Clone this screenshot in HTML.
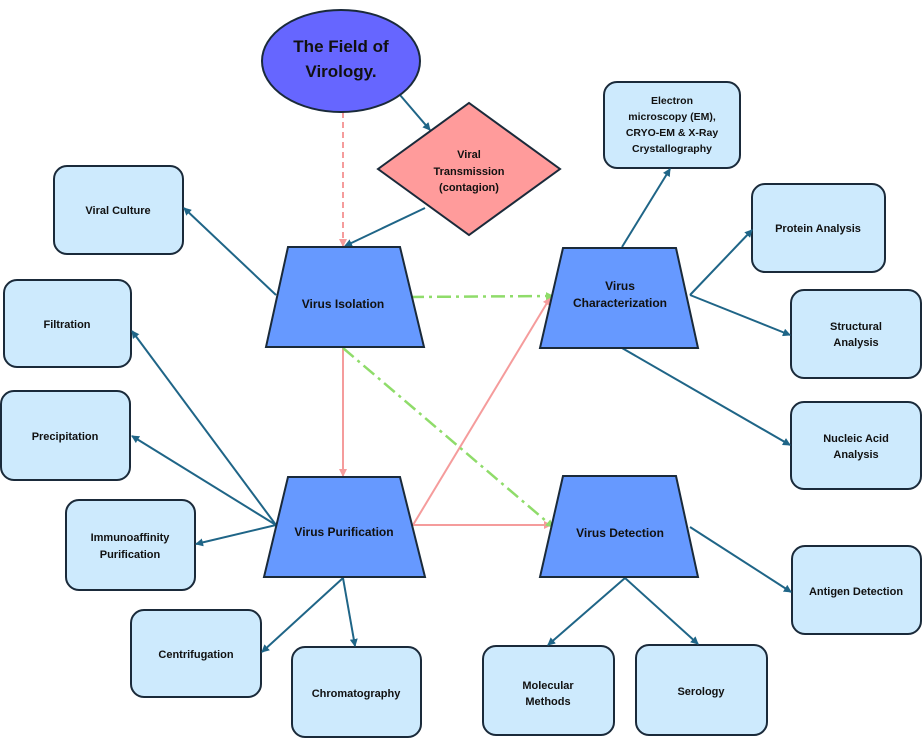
<!DOCTYPE html>
<html><head><meta charset="utf-8"><style>
html,body{margin:0;padding:0;background:#fff;}
svg{display:block;font-family:"Liberation Sans",sans-serif;font-weight:bold;}
</style></head><body>
<svg width="924" height="739" viewBox="0 0 924 739" xmlns="http://www.w3.org/2000/svg">
<defs>
<marker id="a" markerWidth="8" markerHeight="8" refX="7" refY="4" orient="auto" markerUnits="userSpaceOnUse"><path d="M0,0 L8,4 L0,8 Z" fill="#1f6587"/></marker>
<marker id="p" markerWidth="8" markerHeight="8" refX="7" refY="4" orient="auto" markerUnits="userSpaceOnUse"><path d="M0,0 L8,4 L0,8 Z" fill="#f59c9c"/></marker>
<marker id="g" markerWidth="8" markerHeight="8" refX="7" refY="4" orient="auto" markerUnits="userSpaceOnUse"><path d="M0,0 L8,4 L0,8 Z" fill="#8fdc6a"/></marker>
</defs>
<g fill="#cdeafd" stroke="#1a2a3a" stroke-width="2">
<rect x="54" y="166" width="129" height="88" rx="13"/>
<rect x="4" y="280" width="127" height="87" rx="13"/>
<rect x="1" y="391" width="129" height="89" rx="13"/>
<rect x="66" y="500" width="129" height="90" rx="13"/>
<rect x="131" y="610" width="130" height="87" rx="13"/>
<rect x="292" y="647" width="129" height="90" rx="13"/>
<rect x="483" y="646" width="131" height="89" rx="13"/>
<rect x="636" y="645" width="131" height="90" rx="13"/>
<rect x="792" y="546" width="129" height="88" rx="13"/>
<rect x="791" y="402" width="130" height="87" rx="13"/>
<rect x="791" y="290" width="130" height="88" rx="13"/>
<rect x="752" y="184" width="133" height="88" rx="13"/>
<rect x="604" y="82" width="136" height="86" rx="13"/>
</g>
<g stroke="#1f6587" stroke-width="2" fill="none" marker-end="url(#a)">
<line x1="400" y1="95" x2="430" y2="130"/>
<line x1="425" y1="208" x2="345" y2="246"/>
<line x1="276" y1="295" x2="184" y2="208"/>
<line x1="276" y1="525" x2="132" y2="331"/>
<line x1="276" y1="525" x2="132" y2="436"/>
<line x1="276" y1="525" x2="196" y2="544"/>
<line x1="343" y1="578" x2="262" y2="652"/>
<line x1="343" y1="578" x2="355" y2="646"/>
<line x1="622" y1="247" x2="670" y2="169"/>
<line x1="690" y1="295" x2="752" y2="230"/>
<line x1="690" y1="295" x2="790" y2="335"/>
<line x1="622" y1="348" x2="790" y2="445"/>
<line x1="625" y1="578" x2="548" y2="645"/>
<line x1="625" y1="578" x2="698" y2="644"/>
<line x1="690" y1="527" x2="791" y2="592"/>
</g>
<g stroke="#f59c9c" stroke-width="2" fill="none" marker-end="url(#p)">
<line x1="343" y1="112" x2="343" y2="246" stroke-dasharray="6,4"/>
<line x1="343" y1="348" x2="343" y2="476"/>
<line x1="413" y1="525" x2="550" y2="298"/>
<line x1="413" y1="525" x2="551" y2="525"/>
</g>
<g stroke="#8fdc6a" stroke-width="2.5" fill="none" stroke-dasharray="14,5,3,5" marker-end="url(#g)">
<line x1="410" y1="297" x2="553" y2="296"/>
<line x1="343" y1="348" x2="553" y2="527"/>
</g>
<ellipse cx="341" cy="61" rx="79" ry="51" fill="#6666ff" stroke="#1a2a3a" stroke-width="2"/>
<polygon points="378,169 469,103 560,169 469,235" fill="#ff9b9b" stroke="#1a2a3a" stroke-width="2"/>
<g fill="#6699ff" stroke="#1a2a3a" stroke-width="2">
<polygon points="288,247 400,247 424,347 266,347"/>
<polygon points="563,248 676,248 698,348 540,348"/>
<polygon points="288,477 400,477 425,577 264,577"/>
<polygon points="563,476 676,476 698,577 540,577"/>
</g>
<g fill="#111" text-anchor="middle" font-size="12">
<text x="341" y="52" font-size="17">The Field of</text>
<text x="341" y="77" font-size="17">Virology.</text>
<text x="469" y="158" font-size="11">Viral</text>
<text x="469" y="175" font-size="11">Transmission</text>
<text x="469" y="191" font-size="11">(contagion)</text>
<text x="343" y="308">Virus Isolation</text>
<text x="620" y="290">Virus</text>
<text x="620" y="307">Characterization</text>
<text x="344" y="536">Virus Purification</text>
<text x="620" y="537">Virus Detection</text>
<g font-size="11">
<text x="118" y="214">Viral Culture</text>
<text x="67" y="328">Filtration</text>
<text x="65" y="440">Precipitation</text>
<text x="130" y="541">Immunoaffinity</text>
<text x="130" y="558">Purification</text>
<text x="196" y="658">Centrifugation</text>
<text x="356" y="697">Chromatography</text>
<text x="548" y="689">Molecular</text>
<text x="548" y="705">Methods</text>
<text x="701" y="695">Serology</text>
<text x="856" y="595">Antigen Detection</text>
<text x="856" y="442">Nucleic Acid</text>
<text x="856" y="458">Analysis</text>
<text x="856" y="330">Structural</text>
<text x="856" y="346">Analysis</text>
<text x="818" y="232">Protein Analysis</text>
<text x="672" y="120" font-size="10.5">microscopy (EM),</text>
<text x="672" y="104" font-size="10.5">Electron</text>
<text x="672" y="136" font-size="10.5">CRYO-EM &amp; X-Ray</text>
<text x="672" y="152" font-size="10.5">Crystallography</text>
</g>
</g>
</svg>
</body></html>
